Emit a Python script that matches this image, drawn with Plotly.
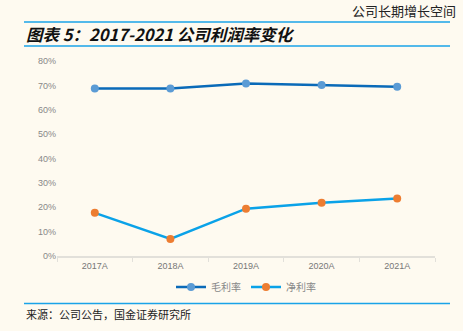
import plotly.graph_objects as go

# Profit margins by fiscal year
years = ["2017A", "2018A", "2019A", "2020A", "2021A"]
gross_margin = [0.687, 0.687, 0.708, 0.702, 0.694]
net_margin = [0.177, 0.070, 0.194, 0.218, 0.236]
y_ticks = [0, 0.1, 0.2, 0.3, 0.4, 0.5, 0.6, 0.7, 0.8]

W, H = 463, 331
ML, MR, MT, MB = 57, 28, 61, 75
PW, PH = W - ML - MR, H - MT - MB
BG = "#FEFAF0"
CJK = "Noto Sans CJK SC"


def px(x):
    return (x - ML) / PW


def py(y):
    return (H - MB - y) / PH


fig = go.Figure()
fig.add_trace(go.Scatter(
    x=years, y=gross_margin, name="毛利率", mode="lines+markers",
    line=dict(color="#0A6AB8", width=2.5),
    marker=dict(color="#5B9BD5", size=8),
))
fig.add_trace(go.Scatter(
    x=years, y=net_margin, name="净利率", mode="lines+markers",
    line=dict(color="#0AA2E8", width=2.5),
    marker=dict(color="#ED7D31", size=8),
))

shapes = [
    dict(type="line", xref="paper", yref="paper", x0=px(24), x1=px(450),
         y0=py(22), y1=py(22), line=dict(color="#1AA3E8", width=1.5)),
    dict(type="line", xref="paper", yref="paper", x0=px(24), x1=px(450),
         y0=py(46), y1=py(46), line=dict(color="#1AA3E8", width=1.5)),
    dict(type="line", xref="paper", yref="paper", x0=px(24), x1=px(450),
         y0=py(303.5), y1=py(303.5), line=dict(color="#1AA3E8", width=1.5)),
]

annotations = [
    dict(text="图表 5：2017-2021 公司利润率变化", xref="paper", yref="paper",
         x=px(24), y=py(34), xanchor="left", yanchor="middle", showarrow=False,
         font=dict(family=CJK, size=16.5, color="#111111", weight="bold", style="italic")),
    dict(text="来源：公司公告，国金证券研究所", xref="paper", yref="paper",
         x=px(24), y=py(314), xanchor="left", yanchor="middle", showarrow=False,
         font=dict(family=CJK, size=11, color="#222222")),
    dict(text="公司长期增长空间", xref="paper", yref="paper",
         x=px(458), y=py(10), xanchor="right", yanchor="middle", showarrow=False,
         font=dict(family=CJK, size=13, color="#222222")),
]

fig.update_layout(
    width=W, height=H,
    margin=dict(l=ML, r=MR, t=MT, b=MB),
    paper_bgcolor=BG, plot_bgcolor=BG,
    showlegend=True,
    legend=dict(orientation="h", x=0.5, xanchor="center", y=py(287), yanchor="middle",
                font=dict(family=CJK, size=10, color="#888888"),
                bgcolor="rgba(0,0,0,0)", itemwidth=30),
    shapes=shapes, annotations=annotations,
    xaxis=dict(type="category", range=[-0.5, 4.5], showgrid=False,
               showline=True, linecolor="#E2E0DA", linewidth=1.5,
               ticks="outside", tickson="boundaries", ticklen=4, tickcolor="#E2E0DA",
               tickfont=dict(family="Liberation Sans", size=9, color="#777777")),
    yaxis=dict(range=[0, 0.8], tickvals=y_ticks, tickformat=".0%", showgrid=False,
               zeroline=False, showline=False, ticks="",
               tickfont=dict(family="Liberation Sans", size=9, color="#888888")),
)

fig.write_html("out.html")
